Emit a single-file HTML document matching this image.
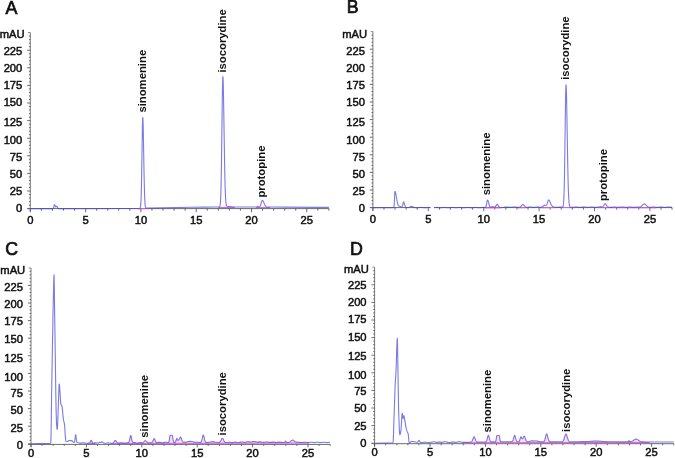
<!DOCTYPE html>
<html lang="en"><head><meta charset="utf-8"><title>HPLC chromatograms</title>
<style>
html,body{margin:0;padding:0;background:#fff}
body{width:675px;height:458px;overflow:hidden}
svg{display:block}
text{font-family:"Liberation Sans",Arial,sans-serif;fill:#111}
.pl{font-size:17.8px;stroke:#111;stroke-width:.7px}
.yt{font-size:11.2px;text-anchor:end;stroke:#111;stroke-width:.5px}
.xt{font-size:11.2px;text-anchor:middle;stroke:#111;stroke-width:.5px}
.nm{font-size:11.3px;font-weight:bold}
</style></head><body>
<svg width="675" height="458" viewBox="0 0 675 458">
<rect width="675" height="458" fill="#fff"/>
<g id="panelA"><line x1="30.30" y1="32.50" x2="30.30" y2="211.60" stroke="#6c6c6c" stroke-width="0.9"/>
<line x1="28.10" y1="32.50" x2="30.30" y2="32.50" stroke="#6c6c6c" stroke-width="0.8"/>
<path d="M27.20 208.60H30.30M28.90 205.08H30.30M28.90 201.56H30.30M28.90 198.04H30.30M28.90 194.52H30.30M27.20 191.00H30.30M28.90 187.48H30.30M28.90 183.96H30.30M28.90 180.44H30.30M28.90 176.92H30.30M27.20 173.40H30.30M28.90 169.88H30.30M28.90 166.36H30.30M28.90 162.84H30.30M28.90 159.32H30.30M27.20 155.80H30.30M28.90 152.28H30.30M28.90 148.76H30.30M28.90 145.24H30.30M28.90 141.72H30.30M27.20 138.20H30.30M28.90 134.68H30.30M28.90 131.16H30.30M28.90 127.64H30.30M28.90 124.12H30.30M27.20 120.60H30.30M28.90 117.08H30.30M28.90 113.56H30.30M28.90 110.04H30.30M28.90 106.52H30.30M27.20 103.00H30.30M28.90 99.48H30.30M28.90 95.96H30.30M28.90 92.44H30.30M28.90 88.92H30.30M27.20 85.40H30.30M28.90 81.88H30.30M28.90 78.36H30.30M28.90 74.84H30.30M28.90 71.32H30.30M27.20 67.80H30.30M28.90 64.28H30.30M28.90 60.76H30.30M28.90 57.24H30.30M28.90 53.72H30.30M27.20 50.20H30.30M28.90 46.68H30.30M28.90 43.16H30.30M28.90 39.64H30.30M28.90 36.12H30.30" stroke="#484848" stroke-width="0.8" fill="none"/>
<line x1="27.30" y1="208.60" x2="328.92" y2="208.60" stroke="#6c6c6c" stroke-width="1"/>
<path d="M30.30 208.60v3.60M41.36 208.60v2.10M52.42 208.60v2.10M63.48 208.60v2.10M74.54 208.60v2.10M85.60 208.60v3.60M96.66 208.60v2.10M107.72 208.60v2.10M118.78 208.60v2.10M129.84 208.60v2.10M140.90 208.60v3.60M151.96 208.60v2.10M163.02 208.60v2.10M174.08 208.60v2.10M185.14 208.60v2.10M196.20 208.60v3.60M207.26 208.60v2.10M218.32 208.60v2.10M229.38 208.60v2.10M240.44 208.60v2.10M251.50 208.60v3.60M262.56 208.60v2.10M273.62 208.60v2.10M284.68 208.60v2.10M295.74 208.60v2.10M306.80 208.60v3.60M317.86 208.60v2.10M328.92 208.60v2.10" stroke="#484848" stroke-width="0.8" fill="none"/>
<line x1="137.58" y1="208.82" x2="149.75" y2="208.60" stroke="#e05fd8" stroke-width="1"/>
<line x1="218.32" y1="207.54" x2="234.91" y2="207.47" stroke="#e05fd8" stroke-width="1"/>
<line x1="255.92" y1="207.55" x2="270.30" y2="207.55" stroke="#e05fd8" stroke-width="1"/>
<polyline points="30.30,208.60 52.97,208.59 53.25,208.44 53.42,208.16 53.75,207.12 54.24,205.12 54.41,204.73 54.52,204.65 54.63,204.70 54.80,204.92 55.41,206.53 55.68,206.99 55.79,207.05 55.96,207.00 56.51,206.27 56.68,206.17 56.79,206.19 57.07,206.53 57.62,207.77 57.89,208.21 58.28,208.51 58.78,208.59 116.18,208.57 138.85,208.30 139.57,208.26 139.96,208.11 140.18,207.84 140.40,207.22 140.57,206.35 140.73,204.92 141.01,200.58 141.23,194.55 141.62,176.89 142.39,127.54 142.61,119.37 142.72,117.64 142.78,117.42 142.89,118.07 143.00,120.02 143.22,127.41 144.11,176.43 144.55,194.16 144.83,200.71 145.10,204.55 145.43,206.82 145.66,207.52 145.88,207.88 146.10,208.04 146.32,208.11 147.15,208.15 191.28,207.28 204.99,207.11 218.43,207.04 219.04,207.01 219.43,206.87 219.76,206.46 219.98,205.82 220.20,204.60 220.37,203.10 220.70,197.64 220.97,189.38 221.20,179.55 221.47,162.81 222.41,90.34 222.63,80.23 222.74,77.57 222.85,76.66 222.97,77.23 223.13,80.20 223.46,92.95 224.57,161.81 224.85,175.71 225.12,186.44 225.45,195.37 225.79,200.82 226.01,203.04 226.23,204.47 226.50,205.52 226.78,206.05 227.11,206.34 227.61,206.46 229.82,206.55 234.52,206.96 238.39,207.05 256.64,207.05 256.92,207.00 257.09,206.89 257.53,206.31 257.69,206.21 257.86,206.30 258.36,206.93 258.58,207.01 258.97,206.99 259.41,206.85 259.74,206.63 260.02,206.31 260.29,205.84 260.79,204.54 261.79,201.15 262.06,200.57 262.23,200.40 262.34,200.36 262.50,200.40 262.73,200.54 263.17,201.15 264.72,204.66 265.44,205.88 265.88,206.36 266.32,206.68 266.82,206.88 267.48,207.00 268.86,207.05 284.18,207.08 315.21,207.35 328.92,207.40" fill="none" stroke="#4646d8" stroke-width="1.1" stroke-opacity="0.72" stroke-linejoin="round"/>
<text x="5.6" y="14.2" class="pl">A</text>
<text x="24.50" y="38.40" class="yt">mAU</text>
<text x="22.30" y="212.25" class="yt">0</text>
<text x="22.30" y="195.25" class="yt">25</text>
<text x="22.30" y="177.65" class="yt">50</text>
<text x="22.30" y="160.85" class="yt">75</text>
<text x="22.30" y="144.00" class="yt">100</text>
<text x="22.30" y="125.85" class="yt">125</text>
<text x="22.30" y="106.30" class="yt">150</text>
<text x="22.30" y="88.80" class="yt">175</text>
<text x="22.30" y="71.50" class="yt">200</text>
<text x="22.30" y="54.80" class="yt">225</text>
<text x="30.30" y="223.70" class="xt">0</text>
<text x="85.60" y="223.70" class="xt">5</text>
<text x="140.90" y="223.70" class="xt">10</text>
<text x="196.20" y="223.70" class="xt">15</text>
<text x="251.50" y="223.70" class="xt">20</text>
<text x="306.80" y="223.70" class="xt">25</text>
<text transform="translate(146.4,112.6) rotate(-90)" class="nm">sinomenine</text>
<text transform="translate(226.4,72.6) rotate(-90)" class="nm">isocorydine</text>
<text transform="translate(264.5,197.6) rotate(-90)" class="nm">protopine</text></g>
<g id="panelB"><line x1="372.90" y1="31.60" x2="372.90" y2="210.60" stroke="#6c6c6c" stroke-width="0.9"/>
<line x1="370.70" y1="31.60" x2="372.90" y2="31.60" stroke="#6c6c6c" stroke-width="0.8"/>
<path d="M369.80 207.60H372.90M371.50 204.08H372.90M371.50 200.56H372.90M371.50 197.04H372.90M371.50 193.52H372.90M369.80 190.00H372.90M371.50 186.48H372.90M371.50 182.96H372.90M371.50 179.44H372.90M371.50 175.92H372.90M369.80 172.40H372.90M371.50 168.88H372.90M371.50 165.36H372.90M371.50 161.84H372.90M371.50 158.32H372.90M369.80 154.80H372.90M371.50 151.28H372.90M371.50 147.76H372.90M371.50 144.24H372.90M371.50 140.72H372.90M369.80 137.20H372.90M371.50 133.68H372.90M371.50 130.16H372.90M371.50 126.64H372.90M371.50 123.12H372.90M369.80 119.60H372.90M371.50 116.08H372.90M371.50 112.56H372.90M371.50 109.04H372.90M371.50 105.52H372.90M369.80 102.00H372.90M371.50 98.48H372.90M371.50 94.96H372.90M371.50 91.44H372.90M371.50 87.92H372.90M369.80 84.40H372.90M371.50 80.88H372.90M371.50 77.36H372.90M371.50 73.84H372.90M371.50 70.32H372.90M369.80 66.80H372.90M371.50 63.28H372.90M371.50 59.76H372.90M371.50 56.24H372.90M371.50 52.72H372.90M369.80 49.20H372.90M371.50 45.68H372.90M371.50 42.16H372.90M371.50 38.64H372.90M371.50 35.12H372.90" stroke="#484848" stroke-width="0.8" fill="none"/>
<line x1="369.90" y1="207.60" x2="672.06" y2="207.60" stroke="#6c6c6c" stroke-width="1"/>
<path d="M372.90 207.60v3.60M383.98 207.60v2.10M395.06 207.60v2.10M406.14 207.60v2.10M417.22 207.60v2.10M428.30 207.60v3.60M439.38 207.60v2.10M450.46 207.60v2.10M461.54 207.60v2.10M472.62 207.60v2.10M483.70 207.60v3.60M494.78 207.60v2.10M505.86 207.60v2.10M516.94 207.60v2.10M528.02 207.60v2.10M539.10 207.60v3.60M550.18 207.60v2.10M561.26 207.60v2.10M572.34 207.60v2.10M583.42 207.60v2.10M594.50 207.60v3.60M605.58 207.60v2.10M616.66 207.60v2.10M627.74 207.60v2.10M638.82 207.60v2.10M649.90 207.60v3.60M660.98 207.60v2.10M672.06 207.60v2.10" stroke="#484848" stroke-width="0.8" fill="none"/>
<line x1="484.25" y1="207.92" x2="501.43" y2="207.91" stroke="#e05fd8" stroke-width="1"/>
<line x1="518.05" y1="207.85" x2="528.02" y2="207.62" stroke="#e05fd8" stroke-width="1"/>
<line x1="540.21" y1="207.79" x2="554.61" y2="207.64" stroke="#e05fd8" stroke-width="1"/>
<line x1="561.26" y1="207.54" x2="574.56" y2="207.60" stroke="#e05fd8" stroke-width="1"/>
<line x1="597.82" y1="207.60" x2="656.55" y2="207.83" stroke="#e05fd8" stroke-width="1"/>
<polyline points="372.90,207.60 393.07,207.60 393.45,207.59 393.67,207.52 393.84,207.32 394.01,206.75 394.23,204.71 394.73,193.83 394.84,192.03 394.95,191.38 395.12,191.47 395.34,191.86 395.72,193.23 397.00,200.49 397.55,203.11 398.00,204.54 398.49,205.53 398.94,206.01 399.55,206.34 401.43,207.03 401.76,207.06 401.98,206.95 402.26,206.57 402.48,205.99 403.26,202.55 403.43,202.08 403.59,201.92 403.81,202.09 404.03,202.55 404.92,205.56 405.36,206.68 405.59,207.03 405.86,207.31 406.20,207.49 406.58,207.56 407.75,207.56 408.74,207.43 409.46,207.21 410.85,206.61 411.57,206.48 412.29,206.59 413.84,207.18 414.78,207.44 416.17,207.69 417.28,207.78 418.22,207.74 420.21,207.48 421.21,207.42 422.10,207.46 424.09,207.72 425.09,207.78 425.97,207.73 427.97,207.48 428.91,207.42 429.80,207.46 431.85,207.72 432.84,207.78 433.73,207.73 435.72,207.48 436.67,207.42 437.55,207.46 439.60,207.72 440.60,207.78 441.49,207.73 443.42,207.48 444.37,207.42 445.31,207.46 447.30,207.72 448.30,207.78 449.19,207.73 451.18,207.48 452.12,207.42 453.01,207.46 455.06,207.72 456.06,207.78 456.94,207.73 458.88,207.48 459.82,207.42 460.76,207.46 462.76,207.72 463.76,207.78 464.64,207.74 466.58,207.49 467.52,207.43 468.46,207.46 470.51,207.72 471.51,207.78 472.40,207.73 474.34,207.48 475.22,207.42 476.22,207.45 478.22,207.70 479.16,207.75 480.15,207.70 482.76,207.38 484.97,207.45 485.31,207.37 485.58,207.16 485.81,206.83 486.03,206.30 486.41,204.81 487.19,200.85 487.41,200.20 487.58,200.04 487.69,200.07 487.85,200.26 488.13,200.92 489.07,204.52 489.57,205.97 489.79,206.38 490.07,206.72 490.35,206.91 490.68,206.99 491.12,206.96 492.29,206.66 492.84,206.60 493.45,206.68 494.56,207.03 494.84,207.04 495.06,206.99 495.39,206.76 495.67,206.41 496.66,204.58 496.89,204.38 497.05,204.34 497.27,204.41 497.55,204.65 498.66,206.29 499.27,206.87 499.66,207.08 500.15,207.22 501.76,207.44 503.09,207.43 505.36,207.13 506.36,207.06 507.25,207.10 509.96,207.38 511.01,207.34 513.06,207.07 514.00,207.01 515.00,207.05 517.38,207.34 518.82,207.29 519.71,207.09 520.43,206.73 521.04,206.21 522.26,204.88 522.59,204.64 522.92,204.54 523.26,204.61 523.64,204.88 524.81,206.27 525.31,206.76 525.80,207.06 526.30,207.21 527.02,207.23 528.74,207.04 529.74,207.00 530.62,207.07 532.56,207.31 533.56,207.35 534.45,207.29 536.39,207.05 537.33,207.00 538.21,207.05 540.15,207.29 541.04,207.27 541.65,207.13 542.20,206.86 542.70,206.49 543.75,205.57 544.31,205.24 544.86,205.17 545.97,205.44 546.19,205.39 546.41,205.25 546.75,204.78 547.02,204.14 548.13,200.54 548.41,200.04 548.63,199.92 548.85,199.99 549.07,200.17 549.52,200.80 551.01,204.15 551.68,205.38 552.34,206.19 553.06,206.68 553.67,206.92 554.45,207.11 555.44,207.28 556.33,207.35 557.44,207.32 560.04,207.01 560.87,207.01 562.20,207.11 562.64,207.01 562.92,206.71 563.14,206.14 563.37,205.03 563.53,203.63 563.86,198.52 564.14,190.77 564.36,181.54 564.64,165.80 565.58,97.62 565.80,88.09 565.91,85.58 566.02,84.72 566.14,85.24 566.30,88.02 566.58,97.48 567.74,164.75 568.07,180.10 568.35,189.63 568.68,197.46 569.07,202.74 569.29,204.47 569.51,205.58 569.79,206.40 570.07,206.83 570.35,207.06 570.68,207.20 571.18,207.30 571.90,207.35 572.89,207.32 574.94,207.06 575.94,207.00 576.94,207.06 579.04,207.32 580.10,207.35 582.76,207.05 583.70,207.00 584.69,207.06 586.74,207.32 587.69,207.35 588.63,207.29 590.51,207.05 591.40,207.00 592.39,207.05 594.50,207.32 595.39,207.35 596.33,207.29 598.38,207.04 599.76,206.99 599.98,206.91 600.43,206.46 600.59,206.40 600.76,206.50 601.26,207.08 601.48,207.16 601.81,207.17 602.42,206.99 602.92,206.59 603.36,206.01 604.47,204.20 604.80,203.88 605.08,203.78 605.36,203.87 605.64,204.10 606.91,205.98 607.24,206.36 607.63,206.69 608.07,206.93 608.63,207.11 609.40,207.25 610.29,207.34 611.45,207.33 613.61,207.06 614.61,207.00 615.61,207.05 617.71,207.32 618.77,207.35 621.42,207.05 622.37,207.00 623.36,207.06 625.41,207.32 626.36,207.35 627.30,207.29 629.24,207.04 630.12,207.00 631.12,207.06 633.17,207.32 634.11,207.35 635.00,207.30 637.27,207.01 639.48,206.93 640.26,206.78 640.93,206.47 641.65,205.94 643.31,204.38 643.81,204.10 644.30,204.00 644.80,204.10 645.36,204.43 647.13,206.12 647.91,206.71 648.68,207.09 649.46,207.27 650.40,207.28 652.39,207.05 653.39,207.00 654.33,207.06 656.38,207.32 657.38,207.35 658.27,207.29 660.15,207.05 661.09,207.00 662.03,207.06 664.08,207.32 665.02,207.35 665.97,207.29 667.90,207.04 668.79,207.00 669.73,207.05 672.06,207.33" fill="none" stroke="#4646d8" stroke-width="1.1" stroke-opacity="0.72" stroke-linejoin="round"/>
<rect x="430.52" y="204.60" width="3.55" height="5.5" fill="#fff"/>
<text x="346.8" y="13.3" class="pl">B</text>
<text x="367.10" y="37.50" class="yt">mAU</text>
<text x="364.90" y="212.25" class="yt">0</text>
<text x="364.90" y="195.25" class="yt">25</text>
<text x="364.90" y="177.65" class="yt">50</text>
<text x="364.90" y="160.85" class="yt">75</text>
<text x="364.90" y="144.00" class="yt">100</text>
<text x="364.90" y="125.85" class="yt">125</text>
<text x="364.90" y="106.30" class="yt">150</text>
<text x="364.90" y="88.80" class="yt">175</text>
<text x="364.90" y="71.50" class="yt">200</text>
<text x="364.90" y="54.80" class="yt">225</text>
<text x="372.90" y="222.90" class="xt">0</text>
<text x="428.30" y="222.90" class="xt">5</text>
<text x="483.70" y="222.90" class="xt">10</text>
<text x="539.10" y="222.90" class="xt">15</text>
<text x="594.50" y="222.90" class="xt">20</text>
<text x="649.90" y="222.90" class="xt">25</text>
<text transform="translate(489.7,195.3) rotate(-90)" class="nm">sinomenine</text>
<text transform="translate(568.9,79.8) rotate(-90)" class="nm">isocorydine</text>
<text transform="translate(606.7,201.1) rotate(-90)" class="nm">protopine</text></g>
<g id="panelC"><line x1="31.00" y1="268.00" x2="31.00" y2="446.80" stroke="#6c6c6c" stroke-width="0.9"/>
<line x1="28.80" y1="268.00" x2="31.00" y2="268.00" stroke="#6c6c6c" stroke-width="0.8"/>
<path d="M27.90 443.80H31.00M29.60 440.28H31.00M29.60 436.76H31.00M29.60 433.24H31.00M29.60 429.72H31.00M27.90 426.20H31.00M29.60 422.68H31.00M29.60 419.16H31.00M29.60 415.64H31.00M29.60 412.12H31.00M27.90 408.60H31.00M29.60 405.08H31.00M29.60 401.56H31.00M29.60 398.04H31.00M29.60 394.52H31.00M27.90 391.00H31.00M29.60 387.48H31.00M29.60 383.96H31.00M29.60 380.44H31.00M29.60 376.92H31.00M27.90 373.40H31.00M29.60 369.88H31.00M29.60 366.36H31.00M29.60 362.84H31.00M29.60 359.32H31.00M27.90 355.80H31.00M29.60 352.28H31.00M29.60 348.76H31.00M29.60 345.24H31.00M29.60 341.72H31.00M27.90 338.20H31.00M29.60 334.68H31.00M29.60 331.16H31.00M29.60 327.64H31.00M29.60 324.12H31.00M27.90 320.60H31.00M29.60 317.08H31.00M29.60 313.56H31.00M29.60 310.04H31.00M29.60 306.52H31.00M27.90 303.00H31.00M29.60 299.48H31.00M29.60 295.96H31.00M29.60 292.44H31.00M29.60 288.92H31.00M27.90 285.40H31.00M29.60 281.88H31.00M29.60 278.36H31.00M29.60 274.84H31.00M29.60 271.32H31.00" stroke="#484848" stroke-width="0.8" fill="none"/>
<line x1="28.00" y1="444.40" x2="330.16" y2="444.40" stroke="#6c6c6c" stroke-width="1"/>
<path d="M31.00 444.40v3.00M42.08 444.40v1.50M53.16 444.40v1.50M64.24 444.40v1.50M75.32 444.40v1.50M86.40 444.40v3.00M97.48 444.40v1.50M108.56 444.40v1.50M119.64 444.40v1.50M130.72 444.40v1.50M141.80 444.40v3.00M152.88 444.40v1.50M163.96 444.40v1.50M175.04 444.40v1.50M186.12 444.40v1.50M197.20 444.40v3.00M208.28 444.40v1.50M219.36 444.40v1.50M230.44 444.40v1.50M241.52 444.40v1.50M252.60 444.40v3.00M263.68 444.40v1.50M274.76 444.40v1.50M285.84 444.40v1.50M296.92 444.40v1.50M308.00 444.40v3.00M319.08 444.40v1.50M330.16 444.40v1.50" stroke="#484848" stroke-width="0.8" fill="none"/>
<polygon points="87.5,443.2 89.4,442.8 89.8,442.6 90.3,442.0 90.9,440.5 91.3,440.3 91.6,440.7 92.3,442.3 92.7,443.0 95.3,442.9" fill="#e05fd8" fill-opacity="0.22"/>
<polygon points="87.5,443.2 95.3,442.9 95.3,443.8 87.5,443.8" fill="#e05fd8" fill-opacity="0.4"/>
<line x1="87.51" y1="443.69" x2="95.26" y2="443.36" stroke="#e05fd8" stroke-width="1"/>
<polygon points="110.8,443.2 112.4,443.2 113.0,443.0 113.7,442.4 114.8,440.8 115.1,440.5 115.3,440.4 115.8,440.7 116.9,442.4 117.4,442.9 117.9,443.1 119.1,443.1" fill="#e05fd8" fill-opacity="0.22"/>
<polygon points="110.8,443.2 119.1,443.1 119.1,443.8 110.8,443.8" fill="#e05fd8" fill-opacity="0.4"/>
<line x1="110.78" y1="443.71" x2="119.09" y2="443.56" stroke="#e05fd8" stroke-width="1"/>
<polygon points="119.1,443.1 121.2,442.7 123.4,443.0 125.2,443.0 126.8,442.7 128.2,442.6 128.6,442.5 128.9,442.1 129.3,441.2 130.3,436.5 130.5,435.7 130.7,435.5 130.9,435.7 131.2,436.4 131.9,440.3 132.3,441.5 132.7,442.3 133.2,442.6 134.5,442.6 136.8,443.0 137.7,442.9 140.0,442.6 142.6,442.7 143.4,442.4 144.7,440.9 145.2,440.7 145.8,440.9 147.0,442.0 147.9,442.5 149.2,442.8 150.7,442.7 151.8,442.4 152.3,442.0 152.9,441.1 153.8,439.0 154.0,438.7 154.2,438.6 154.4,438.7 154.7,439.1 155.8,441.9 156.1,442.3 156.5,442.6 157.1,442.6 158.5,442.3 159.3,442.3 161.6,442.6 162.5,442.7 165.5,442.2 168.3,442.6 168.7,442.3 169.1,441.5 169.8,436.3 170.1,435.5 170.9,435.3 171.8,435.2 172.4,435.3 172.5,435.5 173.4,441.3 173.7,442.2 174.2,442.5 174.6,442.6 174.9,442.5 175.4,442.1 175.7,441.4 176.4,439.2 176.7,438.6 176.8,438.5 177.0,438.7 177.8,440.1 178.0,440.3 178.3,440.3 178.6,440.1 178.9,439.7 180.1,437.4 180.4,437.2 180.6,437.1 180.8,437.2 181.1,437.8 182.4,441.2 182.8,441.9 183.2,442.1 184.2,442.2 187.1,441.8 190.0,441.4 190.8,441.3 191.7,441.4 194.5,442.1 197.5,442.2 199.5,442.5 200.2,442.6 200.9,442.3 201.4,441.5 201.9,440.2 202.9,435.8 203.1,435.2 203.3,435.0 203.5,435.2 203.7,435.8 204.7,440.1 205.2,441.4 205.7,442.3 206.1,442.5 206.6,442.6 207.6,442.5 212.6,441.5 214.9,442.0 216.6,442.2 218.5,442.5 219.2,442.5 219.8,442.1 220.2,441.7 221.7,439.0 222.0,438.5 222.4,438.4 222.7,438.5 223.0,438.9 224.1,441.1 224.7,441.9 225.2,442.4 226.0,442.5 228.8,442.2 231.3,442.6 232.1,442.6 235.2,442.1 238.3,442.5 241.5,442.0 244.5,442.3 245.3,442.2 247.7,441.7 250.9,441.9 253.9,441.5 254.8,441.6 257.1,442.1 257.9,442.1 260.5,441.8 263.5,442.3 264.2,442.3 266.8,442.0 269.2,442.4 270.1,442.4 273.1,442.0 276.3,442.5 279.4,442.1 282.0,442.5 282.7,442.5 283.6,442.4 284.8,442.1 285.4,441.0 286.0,442.1 288.4,442.4 289.1,442.3 289.6,442.1 291.7,440.5 292.3,440.2 292.7,440.1 293.2,440.2 293.6,440.4 295.6,441.8 296.6,442.1 298.7,442.2 300.6,442.5 302.7,442.5 304.7,442.2 306.7,442.5 309.1,442.5" fill="#e05fd8" fill-opacity="0.22"/>
<polygon points="119.1,443.1 309.1,442.5 309.1,443.8 119.1,443.8" fill="#e05fd8" fill-opacity="0.4"/>
<line x1="119.09" y1="443.56" x2="309.11" y2="442.97" stroke="#e05fd8" stroke-width="1"/>
<polyline points="31.00,443.80 39.59,443.60 50.28,443.59 50.39,443.53 50.56,443.27 50.83,442.39 50.94,440.24 51.05,435.18 51.61,394.52 52.94,317.23 53.66,283.59 53.88,276.67 53.99,275.06 54.05,274.84 54.16,277.34 54.27,283.74 54.60,310.04 55.93,401.31 56.21,414.05 56.43,420.86 56.65,425.49 56.93,428.39 57.04,429.10 57.15,429.37 57.26,429.03 57.37,428.14 57.65,424.65 58.87,389.33 59.09,385.09 59.20,384.09 59.25,383.96 59.31,384.04 59.42,384.62 59.59,386.34 60.58,401.20 60.81,403.77 60.92,404.38 61.03,404.64 61.53,405.33 61.91,406.14 62.08,406.73 62.19,407.42 63.41,419.53 63.58,420.39 64.24,422.92 64.57,424.79 64.74,426.71 65.29,436.17 65.74,440.10 65.90,440.97 66.01,441.20 66.79,441.47 67.62,441.54 67.95,441.41 68.78,440.74 69.12,440.57 70.06,440.57 71.05,440.66 72.00,440.84 72.22,440.94 72.55,441.25 73.21,442.03 73.55,442.30 73.99,442.39 74.27,442.31 74.43,442.10 74.54,441.85 74.77,440.91 75.38,435.79 75.54,434.85 75.65,434.66 75.76,434.85 75.93,435.78 76.54,440.90 76.70,441.68 76.87,442.14 77.04,442.38 77.31,442.54 79.20,442.98 79.92,443.10 80.75,443.10 82.41,442.86 83.19,442.83 83.96,442.91 85.68,443.26 86.51,443.31 87.29,443.23 89.39,442.82 89.78,442.65 90.06,442.37 90.33,441.89 90.89,440.65 91.05,440.39 91.22,440.28 91.39,440.34 91.61,440.68 92.22,442.21 92.49,442.74 92.83,443.08 93.21,443.19 93.71,443.16 95.15,442.87 95.76,442.82 96.43,442.85 97.70,443.06 98.14,443.07 98.59,442.90 99.20,442.41 99.47,442.25 99.81,442.24 100.42,442.51 100.75,442.54 101.03,442.43 101.69,441.96 102.02,441.86 102.24,441.90 102.47,442.01 103.24,442.67 103.63,442.92 104.13,443.12 104.74,443.25 105.29,443.29 105.90,443.27 107.73,442.95 108.56,442.88 109.34,442.95 111.11,443.26 112.05,443.26 112.77,443.07 113.32,442.72 113.82,442.16 114.76,440.77 115.04,440.51 115.26,440.44 115.54,440.52 115.82,440.78 116.70,442.14 117.15,442.68 117.53,442.97 117.98,443.12 118.70,443.12 120.42,442.79 121.25,442.73 122.02,442.79 123.68,443.08 124.52,443.11 125.24,443.03 126.90,442.71 128.17,442.63 128.50,442.53 128.73,442.36 128.95,442.05 129.17,441.55 129.56,440.10 130.33,436.23 130.55,435.61 130.72,435.46 130.89,435.60 131.11,436.22 131.88,440.06 132.27,441.50 132.66,442.25 132.88,442.45 133.21,442.57 134.49,442.65 136.15,442.94 136.87,443.00 137.70,442.95 139.31,442.63 140.03,442.55 140.75,442.58 142.08,442.76 142.58,442.75 142.96,442.63 143.30,442.43 143.68,442.07 144.68,440.94 145.01,440.72 145.29,440.68 145.51,440.73 145.79,440.89 147.06,442.07 147.45,442.33 147.89,442.54 148.56,442.73 149.22,442.83 149.89,442.84 150.61,442.75 151.72,442.44 152.10,442.21 152.38,441.94 152.88,441.10 153.77,438.97 153.99,438.66 154.15,438.58 154.38,438.68 154.65,439.13 155.43,441.20 155.76,441.90 156.09,442.34 156.48,442.58 157.03,442.61 158.48,442.35 159.31,442.29 160.03,442.36 161.63,442.64 162.46,442.68 163.18,442.61 164.74,442.30 165.51,442.24 166.23,442.30 167.73,442.57 168.23,442.62 168.50,442.55 168.72,442.35 168.89,442.02 169.06,441.48 169.33,439.97 169.83,436.31 170.05,435.47 171.00,435.26 171.88,435.19 172.33,435.21 172.44,435.36 172.66,436.42 173.10,439.73 173.38,441.27 173.54,441.84 173.71,442.19 173.93,442.44 174.21,442.56 174.60,442.60 174.93,442.54 175.15,442.40 175.37,442.13 175.76,441.25 176.43,439.04 176.70,438.57 176.87,438.55 177.03,438.72 177.59,439.82 177.81,440.15 178.03,440.30 178.25,440.29 178.59,440.07 178.92,439.68 179.31,439.04 180.08,437.52 180.30,437.22 180.52,437.10 180.69,437.14 180.80,437.24 181.08,437.70 182.02,440.44 182.41,441.33 182.80,441.87 183.24,442.13 183.63,442.19 184.24,442.16 187.12,441.83 189.94,441.36 190.77,441.31 191.72,441.43 193.77,441.96 194.54,442.10 195.37,442.17 197.53,442.20 199.47,442.53 200.08,442.58 200.52,442.50 200.91,442.27 201.19,441.94 201.47,441.39 201.91,439.95 202.80,435.98 203.07,435.21 203.18,435.06 203.29,435.00 203.40,435.05 203.52,435.20 203.74,435.76 204.68,439.88 205.18,441.45 205.45,441.96 205.79,442.32 206.17,442.52 206.62,442.59 207.62,442.51 210.61,441.94 211.99,441.60 212.55,441.54 213.16,441.60 214.93,442.05 216.65,442.20 218.42,442.51 218.86,442.52 219.19,442.47 219.69,442.23 220.19,441.73 220.63,441.03 221.74,438.88 222.07,438.49 222.35,438.38 222.63,438.48 222.96,438.85 224.12,441.09 224.68,441.90 224.96,442.17 225.29,442.38 225.62,442.50 226.01,442.54 226.62,442.50 228.11,442.23 228.83,442.18 229.61,442.25 231.27,442.56 232.10,442.60 232.82,442.52 234.37,442.21 235.15,442.15 235.92,442.20 237.59,442.49 238.36,442.52 239.14,442.43 240.74,442.09 241.52,442.02 242.24,442.06 243.85,442.30 244.51,442.33 245.34,442.23 246.95,441.82 247.67,441.71 248.50,441.70 250.11,441.90 250.88,441.93 251.66,441.86 253.26,441.55 253.93,441.50 254.82,441.58 256.42,441.97 257.14,442.08 257.97,442.08 259.64,441.86 260.41,441.84 261.19,441.93 262.85,442.28 263.51,442.35 264.29,442.32 265.95,442.03 266.73,441.97 267.56,442.05 269.28,442.38 270.11,442.42 270.83,442.35 272.32,442.08 273.10,442.03 273.87,442.10 275.59,442.43 276.37,442.47 277.09,442.41 278.69,442.12 279.41,442.07 280.24,442.15 281.91,442.47 282.74,442.52 283.57,442.44 284.79,442.18 285.01,441.93 285.29,441.15 285.40,441.01 285.51,441.14 285.78,441.88 286.01,442.11 287.72,442.39 288.39,442.43 289.00,442.33 289.61,442.08 290.22,441.68 291.77,440.43 292.27,440.19 292.71,440.12 293.10,440.17 293.54,440.36 295.26,441.62 295.70,441.86 296.14,442.03 296.86,442.14 298.80,442.18 301.30,442.60 302.18,442.56 303.90,442.25 304.73,442.18 305.51,442.24 307.28,442.57 308.11,442.60 308.78,442.53 310.33,442.23 311.05,442.18 311.88,442.25 313.54,442.56 314.32,442.60 315.09,442.53 316.64,442.24 317.36,442.18 318.19,442.25 319.86,442.56 320.63,442.60 321.41,442.53 323.01,442.23 323.73,442.18 324.51,442.24 326.17,442.55 326.95,442.60 327.72,442.53 329.38,442.22 330.16,442.18" fill="none" stroke="#4646d8" stroke-width="1.1" stroke-opacity="0.72" stroke-linejoin="round"/>
<text x="5.2" y="254.9" class="pl">C</text>
<text x="25.20" y="273.90" class="yt">mAU</text>
<text x="23.00" y="448.75" class="yt">0</text>
<text x="23.00" y="431.75" class="yt">25</text>
<text x="23.00" y="414.15" class="yt">50</text>
<text x="23.00" y="397.35" class="yt">75</text>
<text x="23.00" y="380.50" class="yt">100</text>
<text x="23.00" y="362.35" class="yt">125</text>
<text x="23.00" y="342.80" class="yt">150</text>
<text x="23.00" y="325.30" class="yt">175</text>
<text x="23.00" y="308.00" class="yt">200</text>
<text x="23.00" y="291.30" class="yt">225</text>
<text x="31.00" y="456.50" class="xt">0</text>
<text x="86.40" y="456.50" class="xt">5</text>
<text x="141.80" y="456.50" class="xt">10</text>
<text x="197.20" y="456.50" class="xt">15</text>
<text x="252.60" y="456.50" class="xt">20</text>
<text x="308.00" y="456.50" class="xt">25</text>
<text transform="translate(148.1,437.7) rotate(-90)" class="nm">sinomenine</text>
<text transform="translate(226.3,435.5) rotate(-90)" class="nm">isocorydine</text></g>
<g id="panelD"><line x1="374.60" y1="267.20" x2="374.60" y2="446.20" stroke="#6c6c6c" stroke-width="0.9"/>
<line x1="372.40" y1="267.20" x2="374.60" y2="267.20" stroke="#6c6c6c" stroke-width="0.8"/>
<path d="M371.50 443.20H374.60M373.20 439.68H374.60M373.20 436.16H374.60M373.20 432.64H374.60M373.20 429.12H374.60M371.50 425.60H374.60M373.20 422.08H374.60M373.20 418.56H374.60M373.20 415.04H374.60M373.20 411.52H374.60M371.50 408.00H374.60M373.20 404.48H374.60M373.20 400.96H374.60M373.20 397.44H374.60M373.20 393.92H374.60M371.50 390.40H374.60M373.20 386.88H374.60M373.20 383.36H374.60M373.20 379.84H374.60M373.20 376.32H374.60M371.50 372.80H374.60M373.20 369.28H374.60M373.20 365.76H374.60M373.20 362.24H374.60M373.20 358.72H374.60M371.50 355.20H374.60M373.20 351.68H374.60M373.20 348.16H374.60M373.20 344.64H374.60M373.20 341.12H374.60M371.50 337.60H374.60M373.20 334.08H374.60M373.20 330.56H374.60M373.20 327.04H374.60M373.20 323.52H374.60M371.50 320.00H374.60M373.20 316.48H374.60M373.20 312.96H374.60M373.20 309.44H374.60M373.20 305.92H374.60M371.50 302.40H374.60M373.20 298.88H374.60M373.20 295.36H374.60M373.20 291.84H374.60M373.20 288.32H374.60M371.50 284.80H374.60M373.20 281.28H374.60M373.20 277.76H374.60M373.20 274.24H374.60M373.20 270.72H374.60" stroke="#484848" stroke-width="0.8" fill="none"/>
<line x1="371.60" y1="443.70" x2="673.76" y2="443.70" stroke="#6c6c6c" stroke-width="1"/>
<path d="M374.60 443.70v3.10M385.68 443.70v1.60M396.76 443.70v1.60M407.84 443.70v1.60M418.92 443.70v1.60M430.00 443.70v3.10M441.08 443.70v1.60M452.16 443.70v1.60M463.24 443.70v1.60M474.32 443.70v1.60M485.40 443.70v3.10M496.48 443.70v1.60M507.56 443.70v1.60M518.64 443.70v1.60M529.72 443.70v1.60M540.80 443.70v3.10M551.88 443.70v1.60M562.96 443.70v1.60M574.04 443.70v1.60M585.12 443.70v1.60M596.20 443.70v3.10M607.28 443.70v1.60M618.36 443.70v1.60M629.44 443.70v1.60M640.52 443.70v1.60M651.60 443.70v3.10M662.68 443.70v1.60M673.76 443.70v1.60" stroke="#484848" stroke-width="0.8" fill="none"/>
<polygon points="463.2,442.3 465.8,442.2 470.2,442.2 470.9,442.1 471.3,441.9 471.8,441.6 472.2,440.9 473.5,437.5 473.9,437.0 474.1,436.8 474.3,436.9 474.7,437.5 475.6,440.1 476.1,441.1 476.5,441.6 477.0,441.9 477.5,442.0 478.4,442.1 484.7,442.0 485.6,441.9 486.2,441.6 486.6,440.8 487.1,439.5 487.9,435.9 488.2,435.4 488.4,435.2 488.6,435.4 488.8,435.9 489.7,439.5 490.2,440.8 490.7,441.6 491.4,441.9 494.7,441.9 495.4,441.8 495.7,441.3 495.9,440.6 496.8,435.7 496.9,435.5 499.1,435.5 499.2,435.6 499.5,436.5 500.1,440.6 500.5,441.5 500.8,441.8 501.4,441.8 510.7,441.8 511.9,441.7 512.4,441.4 512.9,440.7 513.3,439.4 514.2,435.9 514.4,435.4 514.7,435.2 514.9,435.4 515.1,435.9 516.0,439.4 516.4,440.7 516.9,441.4 517.5,441.7 518.6,441.7 519.0,441.6 519.3,441.2 519.7,440.1 520.5,437.5 520.9,436.9 521.0,436.8 521.2,437.0 522.0,438.5 522.2,438.7 522.4,438.8 522.9,438.4 523.8,436.5 524.1,436.2 524.3,436.2 524.5,436.3 524.8,437.0 525.7,439.7 526.2,440.7 526.6,441.4 527.2,441.7 527.7,441.8 528.3,441.7 530.9,441.0 532.2,440.9 536.7,441.0 540.4,441.8 543.0,441.8 543.6,441.6 543.9,441.4 544.2,441.1 544.6,440.5 545.1,438.8 546.1,434.8 546.5,434.1 546.7,433.9 546.9,434.1 547.2,434.8 548.2,438.8 548.8,440.5 549.1,441.1 549.4,441.4 549.9,441.7 550.4,441.8 561.0,441.8 561.9,441.7 562.5,441.5 563.1,441.0 563.6,440.1 564.1,438.9 565.3,434.8 565.6,434.1 566.0,433.9 566.3,434.1 566.6,434.8 567.8,438.9 568.5,440.5 568.8,441.0 569.3,441.4 569.7,441.6 570.3,441.8 576.3,441.8 584.2,441.7 596.2,441.1 607.1,441.5 628.1,441.7 628.4,441.7 628.6,441.5 629.0,440.6 629.4,441.5 629.6,441.6 629.9,441.7 631.1,441.5 632.1,441.2 633.0,440.7 635.0,439.4 635.5,439.2 636.1,439.1 637.1,439.3 639.6,441.0 640.4,441.4 641.2,441.6 643.2,441.8 649.4,441.9" fill="#e05fd8" fill-opacity="0.22"/>
<polygon points="463.2,442.3 649.4,441.9 649.4,443.2 463.2,443.2" fill="#e05fd8" fill-opacity="0.4"/>
<line x1="463.24" y1="442.84" x2="649.38" y2="442.42" stroke="#e05fd8" stroke-width="1"/>
<polyline points="374.60,443.20 382.91,443.01 392.55,442.99 392.66,442.95 392.83,442.75 393.10,442.14 393.27,440.37 393.44,436.48 393.93,420.16 394.99,389.50 395.26,383.47 396.10,369.00 396.32,363.24 396.76,348.16 397.09,340.54 397.20,338.92 397.31,338.30 397.42,340.21 397.54,345.12 398.59,409.62 399.20,426.49 399.42,430.84 399.64,433.71 399.81,434.68 399.86,434.75 399.92,434.74 400.08,434.51 400.47,433.21 400.86,431.21 401.14,427.97 401.91,415.79 402.13,413.73 402.30,413.21 402.47,413.84 402.85,417.50 403.02,418.48 403.08,418.56 403.13,418.52 403.24,418.23 403.63,416.30 403.80,415.79 403.85,415.74 403.96,415.84 404.18,416.54 405.73,426.11 406.12,428.18 406.57,429.88 407.01,431.24 407.34,432.05 407.90,432.93 408.12,433.56 408.28,434.72 409.06,441.99 409.17,442.71 409.28,442.99 409.56,442.88 411.11,441.72 411.39,441.58 411.66,441.51 412.99,441.55 414.54,441.69 416.43,442.18 417.54,442.11 417.81,441.99 418.03,441.78 418.75,440.56 418.92,440.39 419.03,440.36 419.14,440.41 419.31,440.61 419.92,441.80 420.25,442.20 420.75,442.43 421.58,442.52 422.47,442.48 424.24,442.20 425.07,442.14 425.96,442.21 427.89,442.53 428.89,442.55 431.27,442.17 432.83,442.03 434.21,441.71 434.71,441.80 435.82,442.30 436.37,442.39 436.87,442.35 438.31,442.12 439.03,442.08 439.86,442.14 441.47,442.40 442.19,442.41 442.85,442.27 444.18,441.74 444.79,441.65 445.40,441.72 448.06,442.35 449.33,442.50 450.22,442.45 451.99,442.14 452.82,442.07 453.71,442.12 455.43,442.40 456.20,442.41 456.98,442.25 458.48,441.68 459.14,441.58 459.86,441.67 461.63,442.20 462.63,442.33 463.46,442.33 465.79,442.19 470.50,442.14 471.00,442.05 471.38,441.89 471.72,441.63 471.99,441.28 472.49,440.30 473.54,437.47 473.82,437.01 474.10,436.84 474.38,437.00 474.65,437.46 475.65,440.13 476.04,440.96 476.48,441.57 476.92,441.89 477.42,442.03 478.14,442.07 485.23,441.98 485.68,441.89 486.01,441.72 486.29,441.44 486.56,440.96 487.01,439.69 487.95,435.93 488.17,435.40 488.39,435.21 488.50,435.26 488.61,435.39 488.83,435.91 489.78,439.66 490.22,440.92 490.44,441.31 490.72,441.62 491.05,441.81 491.44,441.90 494.82,441.89 495.21,441.83 495.43,441.72 495.70,441.32 495.93,440.62 496.65,436.28 496.87,435.56 499.14,435.50 499.25,435.63 499.42,436.25 500.14,440.58 500.41,441.38 500.58,441.61 500.75,441.73 501.02,441.80 501.47,441.82 510.94,441.79 511.88,441.71 512.21,441.56 512.49,441.32 512.93,440.55 513.32,439.38 514.15,436.10 514.43,435.42 514.65,435.24 514.87,435.42 515.09,435.93 515.98,439.38 516.42,440.68 516.65,441.10 516.87,441.38 517.14,441.59 517.48,441.72 518.09,441.78 518.64,441.71 518.97,441.55 519.25,441.26 519.47,440.86 519.69,440.30 520.52,437.45 520.69,437.07 520.86,436.86 521.02,436.83 521.19,436.96 521.96,438.47 522.19,438.72 522.41,438.78 522.63,438.66 522.91,438.31 523.85,436.48 524.07,436.24 524.24,436.18 524.40,436.23 524.51,436.34 524.79,436.83 525.79,439.83 526.17,440.74 526.62,441.36 526.89,441.57 527.17,441.68 527.67,441.76 528.22,441.72 530.94,440.99 531.60,440.89 532.21,440.88 536.53,441.03 537.42,441.16 540.14,441.75 540.74,441.79 542.85,441.77 543.40,441.69 543.85,441.49 544.18,441.16 544.51,440.61 544.79,439.93 545.07,439.04 546.12,434.83 546.40,434.15 546.56,433.95 546.67,433.91 546.78,433.95 546.95,434.15 547.23,434.83 548.28,439.04 548.56,439.93 548.83,440.61 549.17,441.16 549.50,441.49 549.94,441.69 550.50,441.77 560.97,441.79 561.85,441.72 562.46,441.54 562.79,441.32 563.07,441.04 563.57,440.21 564.12,438.73 565.29,434.83 565.62,434.15 565.79,433.97 565.95,433.91 566.12,433.97 566.28,434.15 566.62,434.83 567.89,439.07 568.50,440.54 568.89,441.10 569.28,441.45 569.77,441.67 570.38,441.76 576.53,441.78 584.34,441.65 588.39,441.50 594.04,441.14 596.14,441.09 598.19,441.13 603.57,441.43 607.11,441.54 628.17,441.70 628.39,441.68 628.55,441.55 628.89,440.70 629.00,440.57 629.11,440.70 629.44,441.53 629.61,441.65 629.83,441.67 631.05,441.52 632.04,441.22 632.99,440.73 634.98,439.39 635.53,439.16 636.09,439.08 636.64,439.17 637.20,439.40 639.19,440.78 640.13,441.28 641.13,441.60 642.35,441.76 644.51,441.85 650.49,441.93 673.76,441.93" fill="none" stroke="#4646d8" stroke-width="1.1" stroke-opacity="0.72" stroke-linejoin="round"/>
<text x="350.0" y="254.8" class="pl">D</text>
<text x="368.80" y="273.10" class="yt">mAU</text>
<text x="366.60" y="446.85" class="yt">0</text>
<text x="366.60" y="429.85" class="yt">25</text>
<text x="366.60" y="412.25" class="yt">50</text>
<text x="366.60" y="395.45" class="yt">75</text>
<text x="366.60" y="378.60" class="yt">100</text>
<text x="366.60" y="360.45" class="yt">125</text>
<text x="366.60" y="340.90" class="yt">150</text>
<text x="366.60" y="323.40" class="yt">175</text>
<text x="366.60" y="306.10" class="yt">200</text>
<text x="366.60" y="289.40" class="yt">225</text>
<text x="374.60" y="456.20" class="xt">0</text>
<text x="430.00" y="456.20" class="xt">5</text>
<text x="485.40" y="456.20" class="xt">10</text>
<text x="540.80" y="456.20" class="xt">15</text>
<text x="596.20" y="456.20" class="xt">20</text>
<text x="651.60" y="456.20" class="xt">25</text>
<text transform="translate(491.0,432.5) rotate(-90)" class="nm">sinomenine</text>
<text transform="translate(569.5,432.0) rotate(-90)" class="nm">isocorydine</text></g>
</svg>
</body></html>
